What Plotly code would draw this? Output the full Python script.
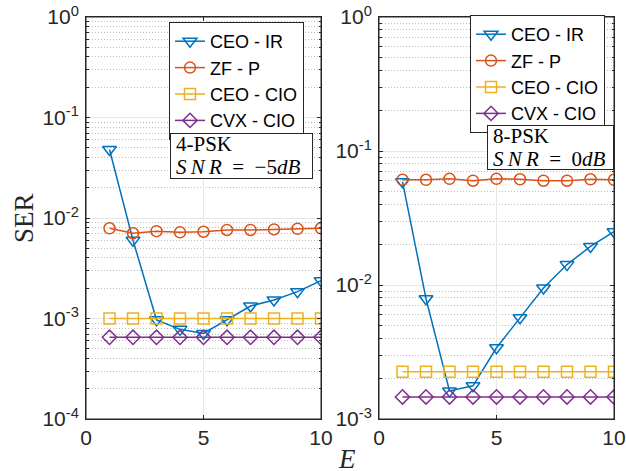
import plotly.graph_objects as go

E = [1, 2, 3, 4, 5, 6, 7, 8, 9, 10]
names = ["CEO - IR", "ZF - P", "CEO - CIO", "CVX - CIO"]

# 4-PSK, SNR = -5 dB
psk4_ceo_ir = [0.048, 0.0060, 0.00097, 0.00078, 0.00071, 0.00097, 0.00133, 0.00153, 0.00185, 0.00238]
psk4_zf_p = [0.0079, 0.00705, 0.0074, 0.0072, 0.0073, 0.0076, 0.0076, 0.0077, 0.0078, 0.0079]
psk4_ceo_cio = [0.0010] * 10
psk4_cvx_cio = [0.00065] * 10

# 8-PSK, SNR = 0 dB
psk8_ceo_ir = [0.059, 0.0079, 0.00162, 0.00177, 0.0034, 0.0057, 0.0095, 0.0142, 0.0194, 0.0250]
psk8_zf_p = [0.061, 0.061, 0.062, 0.060, 0.062, 0.0615, 0.060, 0.060, 0.0615, 0.061]
psk8_ceo_cio = [0.00225] * 10
psk8_cvx_cio = [0.00146] * 10

colors = ["#0072BD", "#D95319", "#EDB120", "#7E2F8E"]
symbols = ["triangle-down-open", "circle-open", "square-open", "diamond-open"]
sizes = [12, 11, 11, 11]

W, H = 626, 471
def px(x):
    return x / W
def py(y):
    return (H - y) / H

fig = go.Figure()

left = [psk4_ceo_ir, psk4_zf_p, psk4_ceo_cio, psk4_cvx_cio]
right = [psk8_ceo_ir, psk8_zf_p, psk8_ceo_cio, psk8_cvx_cio]
for i, ys in enumerate(left):
    fig.add_trace(go.Scatter(x=E, y=ys, mode="lines+markers", name=names[i],
                             line=dict(color=colors[i], width=1.5),
                             marker=dict(symbol=symbols[i], size=sizes[i], color=colors[i],
                                         line=dict(width=1.5, color=colors[i])),
                             xaxis="x", yaxis="y", legend="legend"))
for i, ys in enumerate(right):
    fig.add_trace(go.Scatter(x=E, y=ys, mode="lines+markers", name=names[i],
                             line=dict(color=colors[i], width=1.5),
                             marker=dict(symbol=symbols[i], size=sizes[i], color=colors[i],
                                         line=dict(width=1.5, color=colors[i])),
                             xaxis="x2", yaxis="y2", legend="legend2"))

axcol = "#262626"
tickfont = dict(family="Liberation Sans, Arial", size=21, color=axcol)

def minor_vals(lo, hi):
    v = []
    for e in range(lo, hi):
        for k in range(2, 10):
            v.append(k * 10 ** e)
    return v

def yaxis(lo):
    return dict(type="log", range=[lo, 0], domain=[py(419), py(17)],
                tickvals=[10 ** e for e in range(lo, 1)],
                ticktext=["10<sup>%d</sup>" % e for e in range(lo, 1)],
                tickfont=tickfont, ticks="inside", ticklen=4, tickcolor=axcol,
                showline=True, linecolor=axcol, linewidth=1, mirror="ticks",
                showgrid=True, gridcolor="#e6e6e6", gridwidth=1, zeroline=False,
                automargin=False, ticklabelstandoff=2,
                minor=dict(tickvals=minor_vals(lo, 0), ticks="inside", ticklen=2.5,
                           tickcolor=axcol, showgrid=True, gridcolor="#bdbdbd",
                           griddash="1px,2px", gridwidth=1))

def xaxis(x0, x1):
    return dict(range=[0, 10], domain=[px(x0), px(x1)], tickvals=[0, 5, 10],
                tickfont=tickfont, ticks="inside", ticklen=4, tickcolor=axcol,
                showline=True, linecolor=axcol, linewidth=1, mirror="ticks",
                showgrid=True, gridcolor="#e6e6e6", gridwidth=1, zeroline=False,
                automargin=False)

legfont = dict(family="Liberation Sans, Arial", size=18, color="black")
fig.update_layout(
    width=W, height=H, margin=dict(l=0, r=0, t=0, b=0, autoexpand=False),
    paper_bgcolor="white", plot_bgcolor="white",
    xaxis=dict(xaxis(86, 321), anchor="y"), yaxis=dict(yaxis(-4), anchor="x"),
    xaxis2=dict(xaxis(379, 614), anchor="y2"), yaxis2=dict(yaxis(-3), anchor="x2"),
    legend=dict(x=px(169), y=py(22), xanchor="left", yanchor="top", bgcolor="white",
                bordercolor=axcol, borderwidth=1, font=legfont, itemwidth=30,
                tracegroupgap=0, entrywidth=100),
    legend2=dict(x=px(470), y=py(15), xanchor="left", yanchor="top", bgcolor="white",
                 bordercolor=axcol, borderwidth=1, font=legfont, itemwidth=30,
                 tracegroupgap=0, entrywidth=100),
    showlegend=True,
)

# axes boxes (MATLAB "box on")
for xr, yr in (("x domain", "y domain"), ("x2 domain", "y2 domain")):
    fig.add_shape(type="rect", xref=xr, yref=yr, x0=0, x1=1, y0=0, y1=1,
                  line=dict(color=axcol, width=1), layer="above")

# text boxes (an empty bordered annotation as the box, drawn above the legend)
serif = dict(family="Liberation Serif, Times New Roman", size=21, color="black")
boxes = [
    (170, 313, 133, 179, "4-PSK", "<i>S\u2009N\u2009R</i>\u2002=\u2002−5<i>dB</i>"),
    (487, 614, 125, 170, "8-PSK", "<i>S\u2009N\u2009R</i>\u2002=\u20020<i>dB</i>"),
]
for x0, x1, y0, y1, l1, l2 in boxes:
    fig.add_annotation(xref="paper", yref="paper", x=px(x0), y=py(y0),
                       xanchor="left", yanchor="top", showarrow=False, text=" ",
                       width=x1 - x0 - 2, height=y1 - y0 - 2, borderpad=0,
                       bordercolor=axcol, borderwidth=1, bgcolor="white")
    fig.add_annotation(xref="paper", yref="paper", x=px(x0 + 4), y=py(y0 + 11),
                       xanchor="left", yanchor="middle", showarrow=False, text=l1, font=serif)
    fig.add_annotation(xref="paper", yref="paper", x=px(x0 + 4), y=py(y0 + 34),
                       xanchor="left", yanchor="middle", showarrow=False, text=l2, font=serif)

fig.add_annotation(xref="paper", yref="paper", x=px(7), y=py(218), showarrow=False,
                   text="SER", textangle=-90,
                   font=dict(family="Liberation Serif, Times New Roman", size=27, color=axcol))
fig.add_annotation(xref="paper", yref="paper", x=px(347), y=py(476), showarrow=False,
                   text="<i>E</i>",
                   font=dict(family="Liberation Serif, Times New Roman", size=27, color=axcol))

fig.write_html("out.html", config={"displayModeBar": False},
               post_script="document.body.style.margin='0';document.body.style.overflow='hidden';")
